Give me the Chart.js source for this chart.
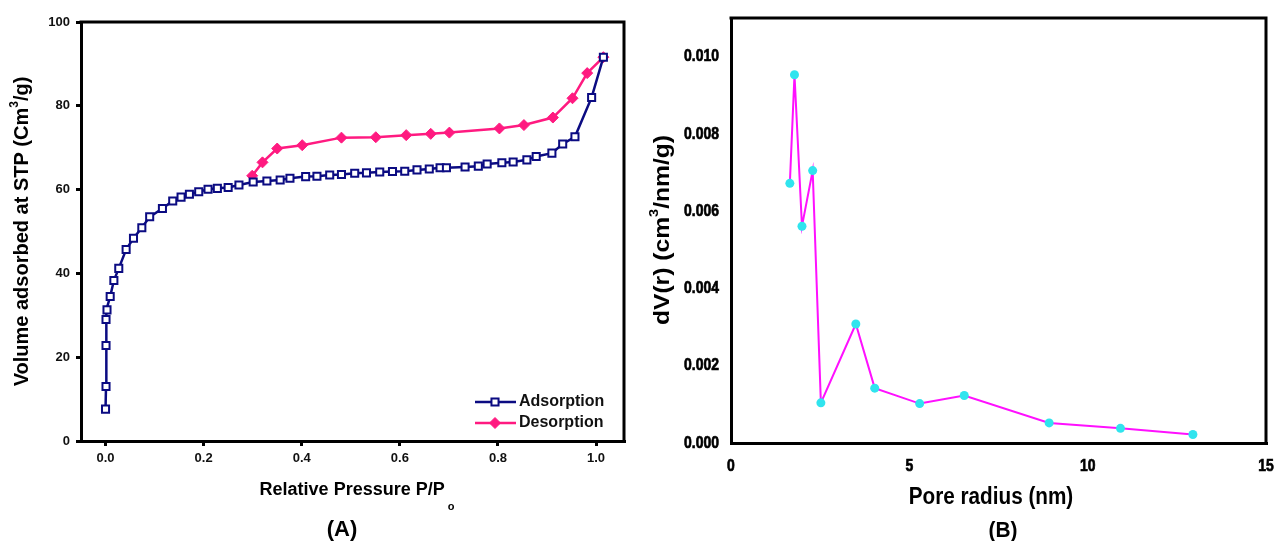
<!DOCTYPE html>
<html>
<head>
<meta charset="utf-8">
<script src="https://cdn.jsdelivr.net/npm/chart.js@4/dist/chart.umd.min.js"></script>
<style>
  html, body { margin: 0; padding: 0; background: #fff; }
  #wrap { position: relative; width: 1280px; height: 541px; overflow: hidden; }
  .panel { position: absolute; top: 0; width: 640px; height: 541px; }
</style>
</head>
<body>
<div id="wrap">
  <div class="panel" style="left:0"><canvas id="iso-chart" width="640" height="541"></canvas></div>
  <div class="panel" style="left:640px"><canvas id="pore-chart" width="640" height="541"></canvas></div>
</div>
<script>
// (A) nitrogen isotherm
const adsP = [0.000, 0.001, 0.001, 0.001, 0.003, 0.0095, 0.017, 0.027, 0.042, 0.057, 0.074,
  0.090, 0.116, 0.137, 0.154, 0.171, 0.190, 0.209, 0.228, 0.250, 0.272, 0.301, 0.329, 0.356,
  0.376, 0.408, 0.431, 0.457, 0.481, 0.508, 0.532, 0.559, 0.585, 0.610, 0.635, 0.660, 0.682,
  0.695, 0.733, 0.760, 0.778, 0.808, 0.831, 0.859, 0.878, 0.910, 0.932, 0.957, 0.991, 1.015];
const adsV = [7.6, 13.0, 22.8, 29.0, 31.3, 34.5, 38.3, 41.2, 45.7, 48.4, 50.9,
  53.5, 55.5, 57.3, 58.2, 58.9, 59.5, 60.1, 60.3, 60.5, 61.1, 61.8, 62.05, 62.3,
  62.7, 63.1, 63.2, 63.5, 63.6, 63.9, 64.0, 64.2, 64.3, 64.4, 64.7, 64.9, 65.2,
  65.2, 65.4, 65.6, 66.1, 66.4, 66.6, 67.1, 67.9, 68.7, 70.9, 72.6, 82.0, 91.6];
const desP = [0.299, 0.320, 0.350, 0.401, 0.481, 0.551, 0.613, 0.663, 0.701, 0.803, 0.853,
  0.912, 0.952, 0.982, 1.015];
const desV = [63.3, 66.5, 69.8, 70.6, 72.4, 72.5, 73.0, 73.3, 73.6, 74.6, 75.4,
  77.2, 81.8, 87.8, 91.6];
const isoXTicks = [0, 0.2, 0.4, 0.6, 0.8, 1.0];
const isoYTicks = [0, 20, 40, 60, 80, 100];

// (B) pore size distribution
const poreR = [1.65, 1.78, 1.99, 2.29, 2.52, 3.50, 4.03, 5.29, 6.54, 8.92, 10.92, 12.95];
const poreDV = [0.00672, 0.00953, 0.00561, 0.00705, 0.00104, 0.00308, 0.00142, 0.00102,
  0.00123, 0.00052, 0.00038, 0.00022];
const poreXTicks = [0, 5, 10, 15];
const poreYTicks = [0, 0.002, 0.004, 0.006, 0.008, 0.010];

const FONT = '"Liberation Sans", Arial, sans-serif';
const NAVY = '#0b0b82';
const PINK = '#ff1a80';

const zip = (xs, ys) => xs.map((x, i) => ({ x: x, y: ys[i] }));

// text made of pieces (super/subscripts), centered on (x, y)
// stretch scales along the writing direction
function drawRich(ctx, parts, x, y, size, opts) {
  opts = opts || {};
  ctx.save();
  ctx.translate(x, y);
  if (opts.rotate) ctx.rotate(-Math.PI / 2);
  if (opts.stretch) ctx.scale(opts.stretch, 1);
  ctx.fillStyle = '#000';
  ctx.textBaseline = 'middle';
  ctx.textAlign = 'left';
  const fontFor = (p) => `bold ${p.dy ? Math.round(size * 0.6) : size}px ${FONT}`;
  let total = 0;
  parts.forEach((p) => { ctx.font = fontFor(p); total += ctx.measureText(p.t).width + (p.gap || 0); });
  let cx = -total / 2;
  parts.forEach((p) => {
    ctx.font = fontFor(p);
    cx += p.gap || 0;
    ctx.fillText(p.t, cx, (p.dy || 0) * size);
    cx += ctx.measureText(p.t).width;
  });
  ctx.restore();
}

// condensed label: horizontal squeeze of a bold face, thickened a little
function drawNarrow(ctx, text, x, y, align) {
  ctx.save();
  ctx.translate(x, y);
  ctx.scale(0.82, 1);
  ctx.textAlign = align;
  ctx.fillText(text, 0, 0);
  ctx.strokeText(text, 0, 0);
  ctx.restore();
}

function linearAxis(ticks, fmt, font, tickLen, pad, fit) {
  return {
    type: 'linear',
    afterBuildTicks: (scale) => { scale.ticks = ticks.map((v) => ({ value: v })); },
    afterFit: fit,
    border: { display: true, color: '#000', width: 3 },
    grid: { display: true, drawOnChartArea: false, drawTicks: true, tickLength: tickLen, color: '#000', lineWidth: 3 },
    ticks: {
      display: font !== null,
      color: '#111',
      font: font || undefined,
      padding: pad,
      autoSkip: false,
      maxRotation: 0,
      callback: fmt,
    },
  };
}

// closes the frame on top and right
const framePlugin = {
  id: 'frame',
  afterDraw: function(chart) {
    const a = chart.chartArea;
    const ctx = chart.ctx;
    ctx.save();
    ctx.strokeStyle = '#000';
    ctx.lineWidth = 3;
    ctx.beginPath();
    ctx.moveTo(a.left - 1.5, a.top);
    ctx.lineTo(a.right, a.top);
    ctx.lineTo(a.right, a.bottom + 1.5);
    ctx.stroke();
    ctx.restore();
  }
};

const isoLabels = {
  id: 'isoLabels',
  afterDraw: function(chart) {
    const ctx = chart.ctx;
    const a = chart.chartArea;
    drawRich(ctx, [{ t: 'Volume adsorbed at STP (Cm' }, { t: '3', dy: -0.38 }, { t: '/g)' }],
      22, (a.top + a.bottom) / 2, 20, { rotate: true });
    drawRich(ctx, [{ t: 'Relative Pressure P/P' }, { t: 'o', dy: 0.95, gap: 3 }],
      357, 490, 18);
    drawRich(ctx, [{ t: '(A)' }], 342, 530, 22);

    // legend, bottom right inside the frame
    const rows = [
      { label: 'Adsorption', ds: chart.data.datasets[0], y: 402 },
      { label: 'Desorption', ds: chart.data.datasets[1], y: 423 },
    ];
    rows.forEach((r) => {
      ctx.save();
      ctx.strokeStyle = r.ds.borderColor;
      ctx.lineWidth = 2.5;
      ctx.beginPath();
      ctx.moveTo(475, r.y);
      ctx.lineTo(516, r.y);
      ctx.stroke();
      ctx.fillStyle = r.ds.pointBackgroundColor;
      ctx.strokeStyle = r.ds.pointBorderColor;
      ctx.lineWidth = r.ds.pointBorderWidth;
      Chart.helpers.drawPoint(ctx, {
        pointStyle: r.ds.pointStyle,
        radius: r.ds.pointRadius,
        borderWidth: r.ds.pointBorderWidth,
        rotation: 0,
      }, 495, r.y);
      ctx.fillStyle = '#111';
      ctx.font = `bold 16px ${FONT}`;
      ctx.textBaseline = 'middle';
      ctx.fillText(r.label, 519, r.y);
      ctx.restore();
    });
  }
};

const poreLabels = {
  id: 'poreLabels',
  afterDraw: function(chart) {
    const ctx = chart.ctx;
    const xs = chart.scales.x;
    const ys = chart.scales.y;
    ctx.save();
    ctx.fillStyle = '#000';
    ctx.strokeStyle = '#000';
    ctx.lineWidth = 0.7;
    ctx.font = `bold 17px ${FONT}`;
    ctx.textBaseline = 'middle';
    poreXTicks.forEach((v) => drawNarrow(ctx, String(v), xs.getPixelForValue(v), 466, 'center'));
    poreYTicks.forEach((v) => drawNarrow(ctx, v.toFixed(3), xs.left - 12, ys.getPixelForValue(v), 'right'));
    ctx.restore();

    drawRich(ctx, [{ t: 'dV(r) (cm' }, { t: '3', dy: -0.38 }, { t: '/nm/g)' }],
      23, 230, 22, { rotate: true, stretch: 1.12 });
    drawRich(ctx, [{ t: 'Pore radius (nm)' }], 351, 498, 23, { stretch: 0.9 });
    drawRich(ctx, [{ t: '(B)' }], 363, 531, 22, { stretch: 0.95 });
  }
};

const isoChart = new Chart(document.getElementById('iso-chart').getContext('2d'), {
  type: 'line',
  data: {
    datasets: [
      {
        label: 'Adsorption',
        data: zip(adsP, adsV),
        borderColor: NAVY,
        borderWidth: 2.5,
        pointStyle: 'rect',
        pointRadius: 5,
        pointBorderWidth: 2,
        pointBackgroundColor: '#fff',
        pointBorderColor: NAVY,
        tension: 0,
      },
      {
        label: 'Desorption',
        data: zip(desP, desV),
        borderColor: PINK,
        borderWidth: 2.5,
        pointStyle: 'rectRot',
        pointRadius: 5.5,
        pointBorderWidth: 1,
        pointBackgroundColor: PINK,
        pointBorderColor: PINK,
        tension: 0,
      },
    ],
  },
  options: {
    responsive: false,
    animation: false,
    layout: { padding: { top: 22, right: 16, left: 0, bottom: 0 } },
    plugins: { legend: { display: false }, tooltip: { enabled: false } },
    scales: {
      x: Object.assign(linearAxis(isoXTicks, (v) => v.toFixed(1),
        { family: FONT, size: 13, weight: 'bold' }, 5, 5,
        (s) => { s.height = 100; }), { min: -0.05, max: 1.057 }),
      y: Object.assign(linearAxis(isoYTicks, (v) => String(v),
        { family: FONT, size: 13, weight: 'bold' }, 5, 6,
        (s) => { s.width = 81; }), { min: 0, max: 100 }),
    },
  },
  plugins: [framePlugin, isoLabels],
});

const poreChart = new Chart(document.getElementById('pore-chart').getContext('2d'), {
  type: 'line',
  data: {
    datasets: [{
      label: 'dV(r)',
      data: zip(poreR, poreDV),
      borderColor: '#ff10ff',
      borderWidth: 2,
      pointStyle: 'circle',
      pointRadius: 4.5,
      pointBorderWidth: 0,
      pointBackgroundColor: '#30e4ee',
      tension: 0,
    }],
  },
  options: {
    responsive: false,
    animation: false,
    layout: { padding: { top: 18, right: 14, left: 0, bottom: 0 } },
    plugins: { legend: { display: false }, tooltip: { enabled: false } },
    scales: {
      // tick labels for this panel are drawn condensed by poreLabels
      x: Object.assign(linearAxis(poreXTicks, null, null, 6, 3,
        (s) => { s.height = 98; }), { min: 0, max: 15 }),
      y: Object.assign(linearAxis(poreYTicks, null, null, 6, 5,
        (s) => { s.width = 91; }), { min: 0, max: 0.011 }),
    },
  },
  plugins: [framePlugin, poreLabels],
});
</script>
</body>
</html>
